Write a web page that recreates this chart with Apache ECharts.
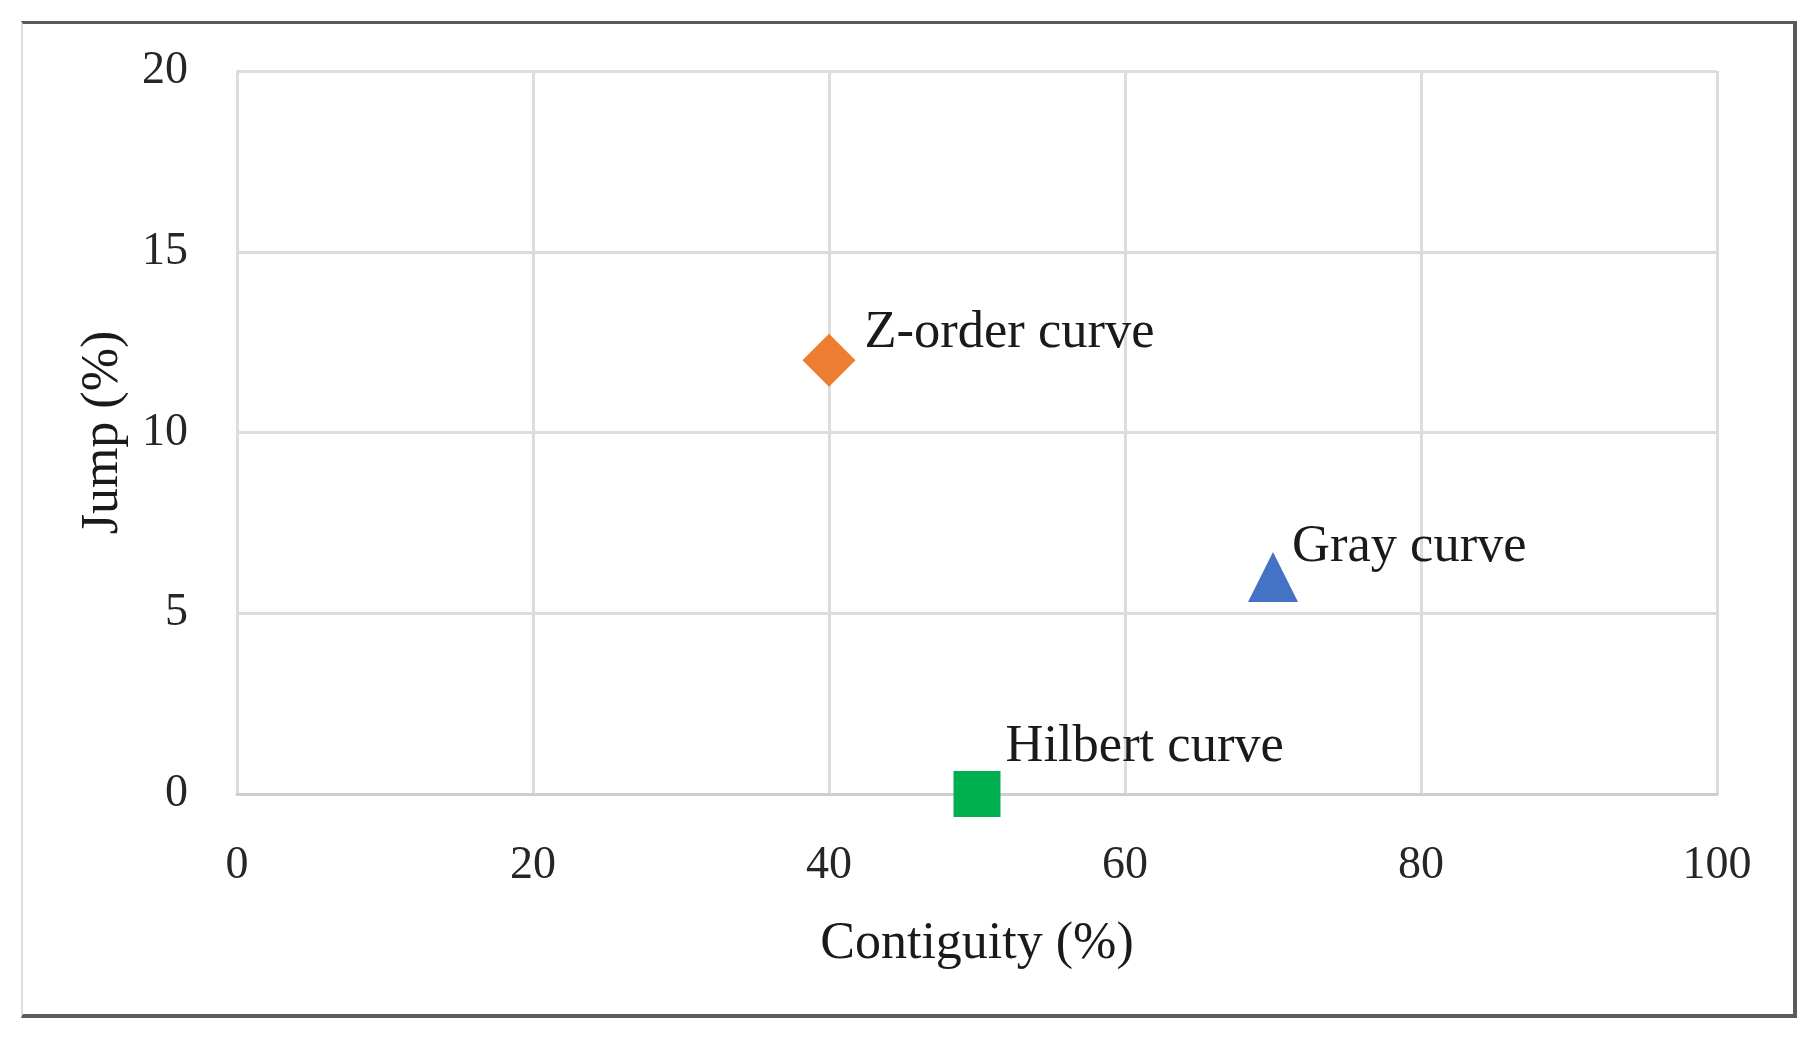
<!DOCTYPE html>
<html>
<head>
<meta charset="utf-8">
<script src="https://cdn.jsdelivr.net/npm/echarts@6/dist/echarts.min.js"></script>
<style>
  html, body { margin: 0; padding: 0; background: #ffffff; }
  #frame {
    position: absolute; left: 21px; top: 21px; width: 1770px; height: 990px;
    border-top: 3px solid #5a5a5a; border-right: 4px solid #5a5a5a;
    border-bottom: 4px solid #5a5a5a; border-left: 2px solid #dcdcdc;
  }
  #chart { position: absolute; left: 0; top: 0; width: 1815px; height: 1038px; }
</style>
</head>
<body>
<div id="frame"></div>
<div id="chart"></div>
<script>
// ---- data ----
const curveNames = ['Z-order curve', 'Gray curve', 'Hilbert curve'];
const contiguity = [40, 70, 50];   // x, %
const jump = [12, 6, 0];           // y, %
const xAxisRange = [0, 100, 20];   // min, max, interval
const yAxisRange = [0, 20, 5];
const xAxisTitle = 'Contiguity (%)';
const yAxisTitle = 'Jump (%)';

// ---- styles ----
const serif = '"Liberation Serif", "Times New Roman", serif';
const styles = [
  { symbol: 'diamond', size: [53, 53], color: '#ED7D31', offset: [9, -27] },
  { symbol: 'triangle', size: [50, 50], color: '#4472C4', offset: [-6, -30] },
  { symbol: 'rect', size: [47, 46], color: '#00B050', offset: [5, -47] }
];

const series = curveNames.map((name, i) => ({
  name: name,
  type: 'scatter',
  clip: false,
  symbol: styles[i].symbol,
  symbolSize: styles[i].size,
  itemStyle: { color: styles[i].color, opacity: 1 },
  label: {
    show: true,
    position: 'right',
    distance: 0,
    offset: styles[i].offset,
    formatter: name,
    fontFamily: serif,
    fontSize: 52.5,
    color: '#1a1a1a'
  },
  data: [[contiguity[i], jump[i]]]
}));

const chart = echarts.init(document.getElementById('chart'), null, { renderer: 'canvas' });
chart.setOption({
  backgroundColor: 'transparent',
  animation: false,
  grid: { left: 237, right: 98, top: 71, bottom: 244, containLabel: false },
  xAxis: {
    type: 'value',
    min: xAxisRange[0], max: xAxisRange[1], interval: xAxisRange[2],
    name: xAxisTitle,
    nameLocation: 'middle',
    nameGap: 124,
    nameTextStyle: { fontFamily: serif, fontSize: 52, color: '#1a1a1a' },
    axisLine: { show: true, lineStyle: { color: '#cfcfcf', width: 3 } },
    axisTick: { show: false },
    axisLabel: { fontFamily: serif, fontSize: 46, color: '#262626', margin: 49 },
    splitLine: { show: true, lineStyle: { color: '#dcdcdc', width: 3 } }
  },
  yAxis: {
    type: 'value',
    min: yAxisRange[0], max: yAxisRange[1], interval: yAxisRange[2],
    name: yAxisTitle,
    nameLocation: 'middle',
    nameGap: 108,
    nameRotate: 90,
    nameTextStyle: { fontFamily: serif, fontSize: 52, color: '#1a1a1a' },
    axisLine: { show: false },
    axisTick: { show: false },
    axisLabel: { fontFamily: serif, fontSize: 46, color: '#262626', margin: 49 },
    splitLine: { show: true, lineStyle: { color: '#dcdcdc', width: 3 } }
  },
  series: series
});
</script>
</body>
</html>
